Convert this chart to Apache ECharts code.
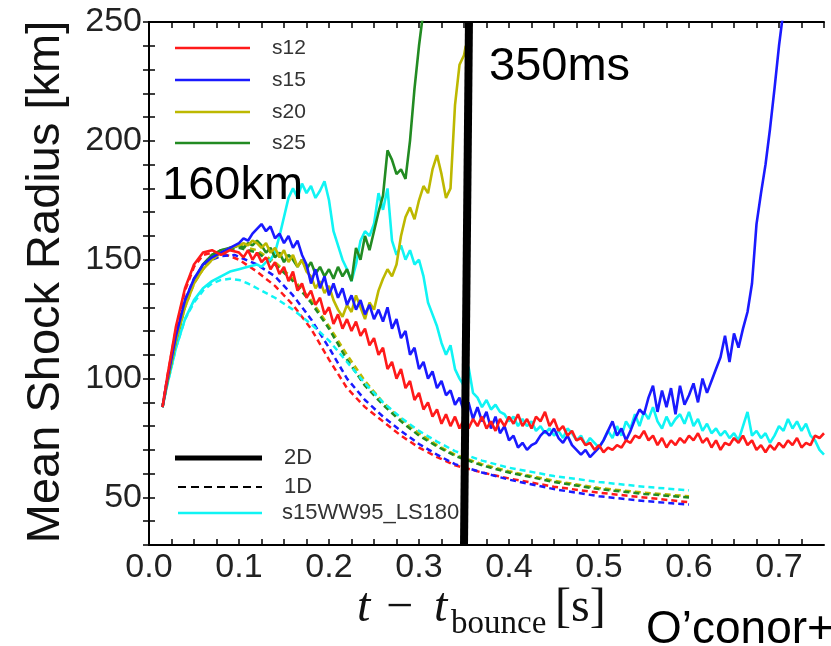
<!DOCTYPE html>
<html>
<head>
<meta charset="utf-8">
<script src="https://cdn.jsdelivr.net/npm/echarts@6/dist/echarts.min.js"></script>
<style>
  html, body { margin: 0; padding: 0; background: #fff; }
  #chart { width: 831px; height: 646px; }
</style>
</head>
<body>
<div id="chart"></div>
<script>
// tick labels
const xTicks = ['0.0', '0.1', '0.2', '0.3', '0.4', '0.5', '0.6', '0.7']
const yTicks = ['50', '100', '150', '200', '250']

// 2D runs (solid) -- [t - t_bounce (s), mean shock radius (km)]
const s12_2d = [
  [0.015, 88], [0.02, 100], [0.03, 122], [0.04, 138], [0.05, 148], [0.06, 153], [0.07, 154], [0.08, 152],
  [0.09, 154], [0.1, 153], [0.105, 151], [0.11, 154], [0.115, 150], [0.12, 153], [0.125, 149], [0.13, 151],
  [0.135, 146], [0.14, 149], [0.145, 144], [0.15, 147], [0.155, 141], [0.16, 145], [0.165, 137], [0.17, 140],
  [0.175, 134], [0.18, 137], [0.185, 131], [0.19, 134], [0.195, 127], [0.2, 130], [0.205, 123], [0.21, 127],
  [0.215, 121], [0.22, 125], [0.225, 120], [0.23, 124], [0.235, 118], [0.24, 121], [0.245, 114], [0.25, 117],
  [0.255, 110], [0.26, 113], [0.265, 104], [0.27, 107], [0.275, 100], [0.28, 104], [0.285, 96], [0.29, 99],
  [0.295, 91], [0.3, 94], [0.305, 87], [0.31, 90], [0.315, 84], [0.32, 87], [0.325, 81], [0.33, 85],
  [0.335, 80], [0.34, 84], [0.345, 79], [0.35, 83], [0.355, 79], [0.36, 83], [0.365, 80], [0.37, 84],
  [0.375, 79], [0.38, 82], [0.385, 78], [0.39, 83], [0.395, 80], [0.4, 84], [0.405, 81], [0.41, 85],
  [0.415, 80], [0.42, 83], [0.425, 79], [0.43, 84], [0.435, 82], [0.44, 86], [0.445, 80], [0.45, 83],
  [0.455, 78], [0.46, 80], [0.465, 76], [0.47, 78], [0.475, 74], [0.48, 75], [0.485, 72], [0.49, 73],
  [0.495, 70], [0.5, 72], [0.505, 69], [0.51, 71], [0.515, 70], [0.52, 72], [0.525, 71], [0.53, 74],
  [0.535, 73], [0.54, 76], [0.545, 75], [0.55, 78], [0.555, 74], [0.56, 76], [0.565, 72], [0.57, 75],
  [0.575, 71], [0.58, 74], [0.585, 72], [0.59, 75], [0.595, 73], [0.6, 76], [0.605, 74], [0.61, 77],
  [0.615, 73], [0.62, 75], [0.625, 71], [0.63, 74], [0.635, 70], [0.64, 73], [0.645, 72], [0.65, 75],
  [0.655, 73], [0.66, 76], [0.665, 72], [0.67, 74], [0.675, 70], [0.68, 72], [0.685, 69], [0.69, 72],
  [0.695, 70], [0.7, 73], [0.705, 71], [0.71, 74], [0.715, 72], [0.72, 75], [0.725, 71], [0.73, 73],
  [0.735, 72], [0.74, 76], [0.745, 75], [0.75, 77]
]
const s15_2d = [
  [0.015, 88], [0.02, 99], [0.03, 118], [0.04, 133], [0.05, 142], [0.06, 148], [0.07, 151], [0.08, 153],
  [0.09, 155], [0.1, 157], [0.105, 159], [0.11, 158], [0.115, 161], [0.12, 163], [0.125, 165], [0.13, 162],
  [0.135, 164], [0.14, 159], [0.145, 161], [0.15, 157], [0.155, 160], [0.16, 155], [0.165, 158], [0.17, 152],
  [0.175, 148], [0.18, 140], [0.185, 146], [0.19, 138], [0.195, 143], [0.2, 135], [0.205, 140], [0.21, 134],
  [0.215, 138], [0.22, 131], [0.225, 135], [0.23, 129], [0.235, 133], [0.24, 127], [0.245, 131], [0.25, 125],
  [0.255, 129], [0.26, 124], [0.265, 130], [0.27, 121], [0.275, 125], [0.28, 117], [0.285, 120], [0.29, 110],
  [0.295, 113], [0.3, 104], [0.305, 107], [0.31, 100], [0.315, 103], [0.32, 96], [0.325, 99], [0.33, 93],
  [0.335, 95], [0.34, 89], [0.345, 92], [0.35, 86], [0.355, 90], [0.36, 83], [0.365, 88], [0.37, 82],
  [0.375, 86], [0.38, 79], [0.385, 84], [0.39, 77], [0.395, 80], [0.4, 74], [0.405, 76], [0.41, 71],
  [0.415, 73], [0.42, 70], [0.425, 72], [0.43, 73], [0.435, 76], [0.44, 78], [0.445, 76], [0.45, 79],
  [0.455, 75], [0.46, 73], [0.465, 76], [0.47, 72], [0.475, 70], [0.48, 68], [0.485, 70], [0.49, 67],
  [0.495, 69], [0.5, 71], [0.505, 74], [0.51, 78], [0.515, 82], [0.52, 76], [0.525, 79], [0.53, 74],
  [0.535, 78], [0.54, 83], [0.545, 87], [0.55, 85], [0.555, 92], [0.56, 97], [0.565, 86], [0.57, 95],
  [0.575, 88], [0.58, 96], [0.585, 85], [0.59, 97], [0.595, 89], [0.6, 93], [0.605, 98], [0.61, 90],
  [0.615, 100], [0.62, 94], [0.625, 99], [0.63, 104], [0.635, 109], [0.64, 118], [0.645, 107], [0.65, 119],
  [0.655, 113], [0.66, 121], [0.665, 128], [0.67, 140], [0.675, 165], [0.68, 178], [0.685, 190], [0.69, 205],
  [0.695, 222], [0.7, 240], [0.705, 255]
]
const s20_2d = [
  [0.015, 88], [0.02, 98], [0.03, 116], [0.04, 130], [0.05, 140], [0.06, 146], [0.07, 150], [0.08, 153],
  [0.09, 155], [0.1, 156], [0.105, 157], [0.11, 156], [0.115, 158], [0.12, 157], [0.125, 155], [0.13, 157],
  [0.135, 153], [0.14, 155], [0.145, 151], [0.15, 154], [0.155, 149], [0.16, 152], [0.165, 147], [0.17, 150],
  [0.175, 145], [0.18, 143], [0.185, 138], [0.19, 141], [0.195, 136], [0.2, 139], [0.205, 133], [0.21, 129],
  [0.215, 126], [0.22, 131], [0.225, 128], [0.23, 135], [0.235, 130], [0.24, 125], [0.245, 132], [0.25, 129],
  [0.255, 137], [0.26, 142], [0.265, 146], [0.27, 143], [0.275, 148], [0.28, 160], [0.285, 168], [0.29, 172],
  [0.295, 167], [0.3, 175], [0.305, 181], [0.31, 178], [0.315, 188], [0.32, 194], [0.325, 186], [0.33, 176],
  [0.335, 180], [0.34, 215], [0.345, 232], [0.35, 236], [0.352, 240]
]
const s25_2d = [
  [0.015, 88], [0.02, 98], [0.03, 116], [0.04, 131], [0.05, 141], [0.06, 148], [0.07, 152], [0.08, 154],
  [0.09, 155], [0.1, 156], [0.105, 155], [0.11, 157], [0.115, 156], [0.12, 158], [0.125, 156], [0.13, 153],
  [0.135, 155], [0.14, 151], [0.145, 153], [0.15, 149], [0.155, 152], [0.16, 150], [0.165, 147], [0.17, 150],
  [0.175, 146], [0.18, 149], [0.185, 144], [0.19, 147], [0.195, 143], [0.2, 146], [0.205, 142], [0.21, 147],
  [0.215, 143], [0.22, 146], [0.225, 141], [0.23, 155], [0.235, 150], [0.24, 160], [0.245, 154], [0.25, 162],
  [0.255, 170], [0.26, 177], [0.265, 196], [0.27, 192], [0.275, 186], [0.28, 188], [0.285, 184], [0.29, 200],
  [0.295, 222], [0.3, 240], [0.305, 255]
]
const s15ls_2d = [
  [0.015, 88], [0.02, 97], [0.03, 113], [0.04, 125], [0.05, 133], [0.06, 138], [0.07, 141], [0.08, 143],
  [0.09, 145], [0.1, 146], [0.11, 147], [0.12, 148], [0.125, 147], [0.13, 149], [0.135, 150], [0.14, 153],
  [0.145, 160], [0.15, 168], [0.155, 176], [0.16, 180], [0.165, 176], [0.17, 182], [0.175, 178], [0.18, 181],
  [0.185, 176], [0.19, 179], [0.195, 183], [0.2, 175], [0.205, 162], [0.21, 156], [0.215, 150], [0.22, 146],
  [0.225, 141], [0.23, 148], [0.235, 158], [0.24, 162], [0.245, 160], [0.25, 165], [0.255, 178], [0.26, 171],
  [0.265, 180], [0.27, 158], [0.275, 152], [0.28, 156], [0.285, 150], [0.29, 154], [0.295, 148], [0.3, 150],
  [0.305, 143], [0.31, 132], [0.315, 127], [0.32, 122], [0.325, 115], [0.33, 110], [0.335, 114], [0.34, 104],
  [0.345, 100], [0.35, 97], [0.355, 105], [0.36, 94], [0.365, 92], [0.37, 88], [0.375, 91], [0.38, 87],
  [0.385, 89], [0.39, 86], [0.395, 85], [0.4, 82], [0.405, 84], [0.41, 80], [0.415, 83], [0.42, 80],
  [0.425, 82], [0.43, 78], [0.435, 80], [0.44, 77], [0.445, 79], [0.45, 76], [0.455, 78], [0.46, 75],
  [0.465, 79], [0.47, 77], [0.475, 74], [0.48, 76], [0.485, 72], [0.49, 75], [0.495, 73], [0.5, 71],
  [0.505, 74], [0.51, 78], [0.515, 75], [0.52, 80], [0.525, 76], [0.53, 82], [0.535, 79], [0.54, 85],
  [0.545, 80], [0.55, 86], [0.555, 83], [0.56, 88], [0.565, 82], [0.57, 79], [0.575, 84], [0.58, 80],
  [0.585, 83], [0.59, 85], [0.595, 81], [0.6, 86], [0.605, 80], [0.61, 83], [0.615, 78], [0.62, 81],
  [0.625, 77], [0.63, 79], [0.635, 76], [0.64, 78], [0.645, 75], [0.65, 77], [0.655, 74], [0.66, 80],
  [0.665, 86], [0.67, 76], [0.675, 78], [0.68, 75], [0.685, 77], [0.69, 73], [0.695, 76], [0.7, 80],
  [0.705, 78], [0.71, 83], [0.715, 79], [0.72, 82], [0.725, 78], [0.73, 81], [0.735, 76], [0.74, 74],
  [0.745, 70], [0.75, 68]
]

// 1D runs (dashed)
const s12_1d = [
  [0.015, 88], [0.02, 100], [0.03, 121], [0.04, 137], [0.05, 147], [0.06, 152], [0.07, 153], [0.08, 153],
  [0.1, 150], [0.12, 145], [0.14, 139], [0.16, 131], [0.18, 121], [0.2, 108], [0.22, 96], [0.24, 88],
  [0.26, 82], [0.28, 76], [0.3, 71], [0.32, 67], [0.34, 63.5], [0.37, 60.5], [0.4, 58], [0.45, 54.5],
  [0.5, 52], [0.55, 50], [0.6, 48]
]
const s15_1d = [
  [0.015, 88], [0.02, 99], [0.03, 118], [0.04, 133], [0.05, 142], [0.06, 147], [0.07, 150], [0.08, 151.5],
  [0.095, 152], [0.12, 148], [0.14, 143], [0.16, 135], [0.18, 125], [0.2, 113], [0.22, 100], [0.24, 91],
  [0.26, 84], [0.28, 78], [0.3, 72.5], [0.32, 68], [0.34, 64], [0.37, 60.5], [0.4, 57.5], [0.45, 53.5],
  [0.5, 50.5], [0.55, 48.5], [0.6, 47]
]
const s20_1d = [
  [0.015, 88], [0.02, 98], [0.03, 116], [0.04, 130], [0.05, 140], [0.06, 146], [0.07, 150], [0.08, 153],
  [0.1, 156], [0.12, 154], [0.14, 149], [0.16, 142], [0.18, 133], [0.2, 122], [0.22, 110], [0.24, 99],
  [0.26, 90], [0.28, 83], [0.3, 77], [0.32, 72], [0.34, 68], [0.37, 64], [0.4, 61], [0.45, 57],
  [0.5, 54], [0.55, 52], [0.6, 50.5]
]
const s25_1d = [
  [0.015, 88], [0.02, 98], [0.03, 116], [0.04, 131], [0.05, 141], [0.06, 148], [0.07, 152], [0.08, 154],
  [0.1, 155], [0.12, 153], [0.14, 148], [0.16, 141], [0.18, 132], [0.2, 121], [0.22, 108], [0.24, 97],
  [0.26, 89], [0.28, 82], [0.3, 76], [0.32, 71.5], [0.34, 67.5], [0.37, 63.5], [0.4, 60.5], [0.45, 56.5],
  [0.5, 53.5], [0.55, 51.5], [0.6, 50]
]
const s15ls_1d = [
  [0.015, 88], [0.02, 97], [0.03, 113], [0.04, 125], [0.05, 132], [0.06, 137], [0.07, 140], [0.08, 141.5],
  [0.09, 142], [0.1, 141.5], [0.11, 140], [0.12, 138], [0.14, 134], [0.16, 129], [0.18, 123], [0.2, 116],
  [0.22, 107], [0.24, 98], [0.26, 90], [0.28, 83.5], [0.3, 78], [0.32, 73.5], [0.34, 69.5], [0.37, 65.5],
  [0.4, 62.5], [0.45, 59], [0.5, 56.5], [0.55, 54.5], [0.6, 53]
]

// 350 ms marker
const markLine350 = [[0.35, 30], [0.3555, 250]]

const RED = '#ff1a1a'
const BLUE = '#1a1aff'
const YEL = '#bdb800'
const GRN = '#228b22'
const CYAN = '#10f4f4'

const runs = [
  { name: 's12', d2: s12_2d, d1: s12_1d, color: RED },
  { name: 's15', d2: s15_2d, d1: s15_1d, color: BLUE },
  { name: 's20', d2: s20_2d, d1: s20_1d, color: YEL },
  { name: 's25', d2: s25_2d, d1: s25_1d, color: GRN },
  { name: 's15WW95_LS180', d2: s15ls_2d, d1: s15ls_1d, color: CYAN }
]

const series = []
runs.forEach(r => {
  series.push({
    name: r.name + ' 1D', type: 'line', data: r.d1, showSymbol: false, z: 2,
    lineStyle: { color: r.color, width: 2.5, type: [6, 4] }
  })
})
runs.slice().reverse().forEach(r => {
  series.push({
    name: r.name + ' 2D', type: 'line', data: r.d2, showSymbol: false, z: 3,
    lineStyle: { color: r.color, width: 2.6 }
  })
})
series.push({
  name: '350ms', type: 'line', data: markLine350, showSymbol: false, z: 10,
  lineStyle: { color: '#000', width: 8 }
})

const font = 'Liberation Sans, Arial, sans-serif'
const serif = 'Liberation Serif, serif'
const tickFmtX = v => xTicks.find(t => Math.abs(parseFloat(t) - v) < 1e-6) || ''
const tickFmtY = v => yTicks.find(t => Math.abs(parseFloat(t) - v) < 1e-6) || ''

const axisBase = {
  axisLine: { lineStyle: { color: '#000', width: 2 } },
  axisTick: { inside: true, length: 6, lineStyle: { color: '#000', width: 1.5 } },
  splitLine: { show: false }
}

const legendTop = [
  { label: 's12', color: RED, y: 48 },
  { label: 's15', color: BLUE, y: 80 },
  { label: 's20', color: YEL, y: 112 },
  { label: 's25', color: GRN, y: 143 }
]
const graphic = []
legendTop.forEach(l => {
  graphic.push({ type: 'line', shape: { x1: 175, y1: l.y, x2: 250, y2: l.y }, style: { stroke: l.color, lineWidth: 2.5 }, z: 20 })
  graphic.push({ type: 'text', x: 272, y: l.y, style: { text: l.label, font: '21px ' + font, fill: '#333', verticalAlign: 'middle' }, z: 20 })
})
graphic.push(
  { type: 'line', shape: { x1: 175, y1: 458, x2: 262, y2: 458 }, style: { stroke: '#000', lineWidth: 5 }, z: 20 },
  { type: 'text', x: 284, y: 458, style: { text: '2D', font: '22px ' + font, fill: '#333', verticalAlign: 'middle' }, z: 20 },
  { type: 'line', shape: { x1: 178, y1: 487, x2: 262, y2: 487 }, style: { stroke: '#000', lineWidth: 2, lineDash: [8, 5] }, z: 20 },
  { type: 'text', x: 284, y: 487, style: { text: '1D', font: '22px ' + font, fill: '#333', verticalAlign: 'middle' }, z: 20 },
  { type: 'line', shape: { x1: 178, y1: 513, x2: 262, y2: 513 }, style: { stroke: CYAN, lineWidth: 2.5 }, z: 20 },
  { type: 'text', x: 282, y: 513, style: { text: 's15WW95_LS180', font: '22px ' + font, fill: '#333', verticalAlign: 'middle' }, z: 20 },
  // annotations
  { type: 'text', x: 489, y: 44, style: { text: '350ms', font: '47px ' + font, fill: '#000' }, z: 30 },
  { type: 'text', x: 162, y: 163, style: { text: '160km', font: '47px ' + font, fill: '#000' }, z: 30 },
  { type: 'text', x: 646, y: 607, style: { text: 'O’conor+', font: '46px ' + font, fill: '#000' }, z: 30 },
  // y axis title
  { type: 'text', x: 46, y: 282, rotation: Math.PI / 2, style: { text: 'Mean Shock Radius [km]', font: '47px ' + font, fill: '#111', align: 'center', verticalAlign: 'middle' } },
  // x axis title
  { type: 'text', x: 357, y: 608, style: { text: 't', font: 'italic 48px ' + serif, fill: '#111', verticalAlign: 'middle' } },
  { type: 'text', x: 386, y: 608, style: { text: '−', font: '48px ' + serif, fill: '#111', verticalAlign: 'middle' } },
  { type: 'text', x: 434, y: 608, style: { text: 't', font: 'italic 48px ' + serif, fill: '#111', verticalAlign: 'middle' } },
  { type: 'text', x: 451, y: 624, style: { text: 'bounce', font: '33px ' + serif, fill: '#111', verticalAlign: 'middle' } },
  { type: 'text', x: 555, y: 608, style: { text: '[s]', font: '48px ' + serif, fill: '#111', verticalAlign: 'middle' } }
)

const chart = echarts.init(document.getElementById('chart'))
chart.setOption({
  backgroundColor: '#fff',
  animation: false,
  grid: { left: 149, top: 22, right: 7, bottom: 101 },
  xAxis: [
    { ...axisBase, type: 'value', min: 0, max: 0.75, interval: 0.025, position: 'bottom',
      axisLabel: { formatter: tickFmtX, fontSize: 34, color: '#222', fontFamily: font, margin: 6, showMaxLabel: false } },
    { ...axisBase, type: 'value', min: 0, max: 0.75, interval: 0.025, position: 'top', axisLabel: { show: false } }
  ],
  yAxis: [
    { ...axisBase, type: 'value', min: 30, max: 250, interval: 10, position: 'left',
      axisLabel: { formatter: tickFmtY, fontSize: 34, color: '#222', fontFamily: font, margin: 7 } },
    { ...axisBase, type: 'value', min: 30, max: 250, interval: 10, position: 'right', axisLabel: { show: false } }
  ],
  series,
  graphic
})
</script>
</body>
</html>
